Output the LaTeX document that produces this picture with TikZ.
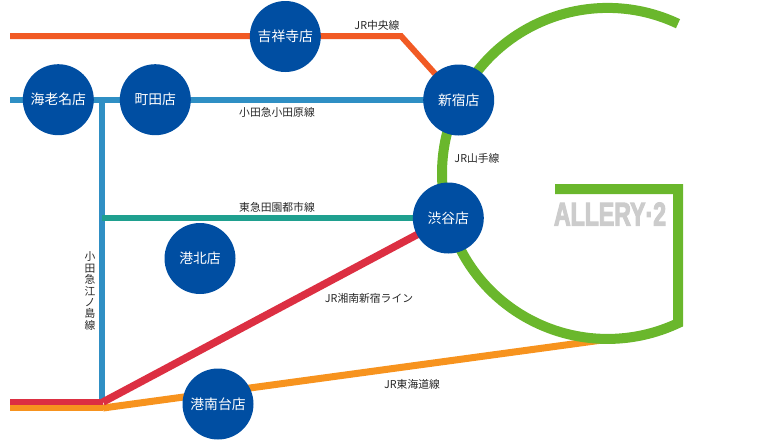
\documentclass[tikz,border=0pt]{standalone}
\usepackage{fontspec}
\setmainfont{Noto Sans CJK JP}
\newfontfamily\logofont[FakeStretch=0.7,FakeBold=3]{Liberation Sans Bold}
\definecolor{gr}{HTML}{6AB72C}
\definecolor{blu}{HTML}{2F8FC4}
\definecolor{org}{HTML}{F15A24}
\definecolor{teal}{HTML}{1FA08F}
\definecolor{rd}{HTML}{DC2F42}
\definecolor{ora}{HTML}{F7931E}
\definecolor{st}{HTML}{004EA2}
\begin{document}
\begin{tikzpicture}[x=1pt,y=-1pt,
 shop/.style={circle,fill=st,text=white,minimum size=71pt,inner sep=0pt,font=\fontsize{13.8}{13.8}\selectfont},
 lbl/.style={font=\fontsize{10.8}{10.8}\selectfont,text=black!85,inner sep=0pt},
 ln/.style={line width=6pt}]
\useasboundingbox (0,0) rectangle (776,445);
\coordinate (a1) at (10,36);
\coordinate (a2) at (401,36);
\coordinate (b1) at (10,100);
\coordinate (c1) at (102,100);
\coordinate (c2) at (102,402);
\coordinate (d1) at (102,218);
\coordinate (r1) at (10,402);
\coordinate (r2) at (103,402);
\coordinate (o1) at (10,408);
\coordinate (o2) at (103,408);
\coordinate (o3) at (600,340.3);
\coordinate (kich) at (285.3,36.5);
\coordinate (shin) at (458.7,100);
\coordinate (shib) at (448.3,218);
\draw[ln,org] (a1) -- (a2) -- (shin);
\draw[ln,blu] (b1) -- (shin);
\draw[ln,blu] (c1) -- (c2);
\draw[ln,teal] (d1) -- (shib);
\draw[ln,ora] (o1) -- (o2);
\draw[ora,line width=7pt] (o2) -- (o3);
\draw[ln,rd] (r1) -- (r2);
\draw[rd,line width=7.5pt] (r2) -- (shib);
\draw[gr,line width=10pt,miter limit=10] (678,23.7) arc[start angle=-64.8,end angle=-295.2,radius=165.5] -- (678,189) -- (555,189);
\node[shop] (n1) at (kich) {吉祥寺店};
\node[shop] (n2) at (58.3,99.7) {海老名店};
\node[shop] (n3) at (155.3,99.7) {町田店};
\node[shop] (n4) at (shin) {新宿店};
\node[shop] (n5) at (shib) {渋谷店};
\node[shop] (n6) at (200,258.5) {港北店};
\node[shop] (n7) at (218,404) {港南台店};
\node[lbl] (l1) at (377,25) {JR中央線};
\node[lbl] (l2) at (277,112) {小田急小田原線};
\node[lbl] (l3) at (477,158) {JR山手線};
\node[lbl] (l4) at (277,207) {東急田園都市線};
\node[lbl] (l5) at (369,298) {JR湘南新宿ライン};
\node[lbl] (l6) at (412,384) {JR東海道線};
\node[lbl,align=center] (l7) at (90,291) {小\\[0.6pt]田\\[0.6pt]急\\[0.6pt]江\\[0.6pt]ノ\\[0.6pt]島\\[0.6pt]線};
\node[font=\logofont\fontsize{33}{33}\selectfont,text=black!20,inner sep=0pt] (logo) at (610,214) {ALLERY·2};
\end{tikzpicture}
\end{document}
